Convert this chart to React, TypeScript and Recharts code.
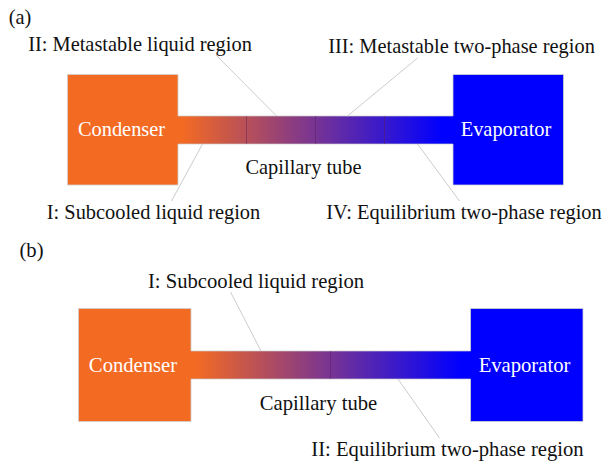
import { ScatterChart, Scatter, XAxis, YAxis, ReferenceArea, ReferenceLine } from "recharts";

const ORANGE = "#f36a23";
const BLUE = "#0000ff";

// block and tube extents
const topBlocks = [
  { name: "Condenser", x1: 67.5, x2: 178, y1: 74.5, y2: 185, fill: ORANGE },
  { name: "Evaporator", x1: 453, x2: 563.5, y1: 74.5, y2: 185, fill: BLUE },
];
const bottomBlocks = [
  { name: "Condenser", x1: 78.5, x2: 191, y1: 308.5, y2: 421.5, fill: ORANGE },
  { name: "Evaporator", x1: 470.5, x2: 583, y1: 308.5, y2: 421.5, fill: BLUE },
];
const topTube = { x1: 177, x2: 454, y1: 116, y2: 144 };
const bottomTube = { x1: 190, x2: 471.5, y1: 351, y2: 379 };
const topDividers = [246.5, 315.5, 384.5];
const bottomDividers = [330.5];

const leaderLines = [
  [216, 55, 276.5, 116],
  [417.5, 58, 347.5, 116],
  [202.5, 144, 171.5, 201],
  [417.5, 144, 459.5, 201],
  [230.5, 292, 261, 351],
  [398, 379, 439.5, 438],
];

const labelText = [
  "(a)",
  "II: Metastable liquid region",
  "III: Metastable two-phase region",
  "Capillary tube",
  "I: Subcooled liquid region",
  "IV: Equilibrium two-phase region",
  "(b)",
  "I: Subcooled liquid region",
  "Capillary tube",
  "II: Equilibrium two-phase region",
];
const labelX = [20, 140, 461.5, 303.5, 153.5, 464, 31.5, 256, 318.5, 447.5];
const labelY = [17, 44, 46, 167, 212, 212, 250, 281, 403, 449];

const whiteText = ["Condenser", "Evaporator", "Condenser", "Evaporator"];
const whiteX = [121.5, 506, 133, 524.5];
const whiteY = [129, 129, 365, 365];

const labels = labelText.map((text, i) => ({ text, x: labelX[i], y: labelY[i], color: "#111" }));
const whiteLabels = whiteText.map((text, i) => ({ text, x: whiteX[i], y: whiteY[i], color: "#fff" }));

const TextMark = (props: any) => (
  <text
    x={props.cx}
    y={props.cy}
    textAnchor="middle"
    dominantBaseline="central"
    fontFamily="'Liberation Serif', serif"
    fontSize={props.payload.y < 235 ? 20.4 : 20.65}
    fill={props.payload.color}
  >
    {props.payload.text}
  </text>
);

export default function App() {
  const blocks = [...topBlocks, ...bottomBlocks];
  const tubes = [topTube, bottomTube];
  const dividers = [
    ...topDividers.map((x) => ({ x, tube: topTube })),
    ...bottomDividers.map((x) => ({ x, tube: bottomTube })),
  ];
  return (
    <div style={{ position: "absolute", left: 0, top: 0, background: "#fff" }}>
      <ScatterChart width={602} height={461} margin={{ top: 0, right: 0, bottom: 0, left: 0 }}>
        <defs>
          <linearGradient id="tubeFill" x1="0" y1="0" x2="1" y2="0">
            <stop offset="2%" stopColor={ORANGE} />
            <stop offset="96%" stopColor={BLUE} />
          </linearGradient>
        </defs>
        <XAxis hide type="number" dataKey="x" domain={[0, 602]} />
        <YAxis hide type="number" dataKey="y" domain={[0, 461]} reversed />
        {leaderLines.map((l, i) => (
          <ReferenceLine
            key={"leader" + i}
            segment={[
              { x: l[0], y: l[1] },
              { x: l[2], y: l[3] },
            ]}
            stroke="#cccccc"
            strokeWidth={1}
          />
        ))}
        {blocks.map((b, i) => (
          <ReferenceArea key={"block" + i} x1={b.x1} x2={b.x2} y1={b.y1} y2={b.y2} fill={b.fill} fillOpacity={1} stroke="#cfcfcf" strokeWidth={0.8} />
        ))}
        {tubes.map((t, i) => (
          <ReferenceArea key={"tube" + i} x1={t.x1} x2={t.x2} y1={t.y1} y2={t.y2} fill="url(#tubeFill)" fillOpacity={1} stroke="none" />
        ))}
        {tubes.flatMap((t, i) =>
          [t.y1, t.y2].map((y, j) => (
            <ReferenceLine
              key={"edge" + i + j}
              segment={[
                { x: t.x1 + 1, y },
                { x: t.x2 - 1, y },
              ]}
              stroke="#c8c8c8"
              strokeWidth={0.7}
            />
          ))
        )}
        {dividers.map((d, i) => (
          <ReferenceLine
            key={"div" + i}
            segment={[
              { x: d.x, y: d.tube.y1 },
              { x: d.x, y: d.tube.y2 },
            ]}
            stroke="#5a1e5a"
            strokeOpacity={0.45}
            strokeWidth={1}
          />
        ))}
        <Scatter data={labels} dataKey="y" shape={TextMark} isAnimationActive={false} />
        <Scatter data={whiteLabels} dataKey="y" shape={TextMark} isAnimationActive={false} />
      </ScatterChart>
    </div>
  );
}
